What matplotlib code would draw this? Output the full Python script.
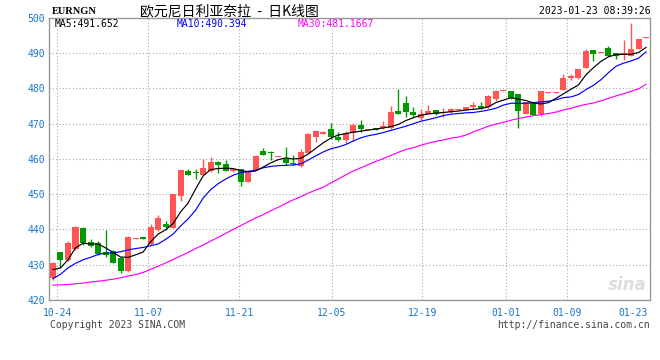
import matplotlib
matplotlib.use('Agg')
import matplotlib.pyplot as plt
import numpy as np

# daily candles, EUR/NGN
opens = [426.2, 433.5, 431.4, 434.5, 440.5, 436.4, 436.1, 433.5, 434.0, 431.8,
         428.1, 437.4, 437.9, 435.9, 439.9, 441.5, 440.5, 449.6, 456.7, 456.3,
         455.6, 456.7, 459.2, 458.5, 456.6, 457.1, 453.6, 456.9, 462.3, 461.8,
         460.6, 460.0, 459.0, 458.0, 461.8, 466.3, 467.2, 468.4, 466.3, 465.4,
         467.5, 469.6, 468.3, 468.7, 468.7, 468.7, 473.7, 476.0, 473.4, 471.7,
         472.9, 473.9, 473.1, 473.2, 474.0, 473.9, 474.8, 474.9, 474.8, 476.9,
         479.4, 479.3, 478.4, 472.9, 476.2, 472.7, 478.8, 478.8, 479.7, 482.9,
         482.9, 485.9, 490.9, 490.1, 491.5, 490.1, 489.5, 489.3, 491.2, 494.4]
highs = [430.9, 433.6, 436.6, 441.0, 440.8, 437.2, 436.8, 439.9, 434.2, 432.3,
         438.2, 437.5, 438.0, 441.7, 444.2, 442.5, 450.2, 457.0, 457.2, 457.2,
         459.9, 460.5, 459.4, 459.6, 457.4, 457.3, 456.5, 461.1, 463.2, 462.3,
         460.8, 463.3, 461.1, 462.7, 467.5, 468.2, 467.9, 470.1, 467.6, 467.9,
         470.1, 471.0, 468.5, 468.8, 470.8, 475.1, 479.8, 477.8, 474.8, 474.1,
         475.3, 474.0, 474.6, 474.4, 474.1, 474.8, 476.1, 476.1, 478.1, 479.7,
         479.5, 479.3, 478.4, 476.3, 476.3, 479.4, 478.9, 478.9, 484.1, 484.1,
         485.6, 491.1, 491.0, 490.2, 492.0, 490.2, 493.7, 498.7, 494.1, 494.5]
lows = [425.7, 429.0, 431.2, 434.3, 435.6, 435.0, 432.9, 432.2, 430.4, 427.8,
        427.9, 437.4, 437.2, 435.7, 439.7, 439.9, 440.3, 448.2, 455.4, 454.2,
        455.4, 456.4, 455.9, 456.5, 456.3, 452.4, 453.5, 456.8, 461.0, 459.7,
        460.6, 458.3, 458.3, 457.8, 461.6, 464.7, 467.0, 465.6, 465.1, 464.4,
        465.2, 467.7, 468.3, 468.1, 468.6, 468.5, 472.7, 472.0, 471.8, 471.0,
        472.8, 472.5, 472.0, 473.1, 474.0, 473.8, 474.2, 474.3, 474.6, 476.4,
        479.4, 477.1, 468.9, 472.8, 472.4, 472.3, 478.8, 478.8, 479.6, 482.4,
        482.8, 485.8, 487.8, 490.1, 489.2, 488.5, 488.0, 489.2, 491.1, 494.4]
closes = [430.6, 431.4, 436.1, 440.8, 436.1, 435.2, 433.1, 432.8, 430.6, 428.1,
          438.0, 437.5, 437.3, 440.6, 443.4, 440.8, 450.0, 456.9, 455.6, 456.0,
          457.5, 459.2, 458.4, 456.7, 457.3, 453.6, 456.4, 460.8, 461.1, 461.6,
          460.7, 458.9, 458.7, 462.1, 467.0, 467.9, 467.7, 466.3, 465.4, 467.5,
          469.6, 468.5, 468.4, 468.2, 469.3, 473.4, 472.9, 473.2, 472.5, 472.9,
          473.6, 472.9, 473.4, 474.2, 474.1, 474.7, 475.3, 474.5, 477.8, 479.3,
          479.5, 477.2, 473.7, 476.2, 472.5, 479.3, 478.9, 478.9, 483.0, 483.6,
          485.5, 490.7, 489.7, 490.2, 489.3, 489.3, 490.1, 491.1, 494.0, 494.5]

ma5 = [428.6, 429.1, 431.4, 434.8, 436.1, 435.9, 435.9, 434.8, 433.5, 432.2,
       432.1, 432.8, 433.6, 436.5, 438.7, 439.9, 441.7, 445.0, 447.5, 451.5,
       455.2, 457.0, 457.3, 457.4, 457.3, 456.7, 456.4, 456.6, 457.7, 458.9,
       459.8, 460.3, 460.0, 460.2, 461.4, 463.0, 464.6, 465.9, 466.8, 467.2,
       467.6, 467.9, 468.2, 468.5, 468.8, 469.2, 469.8, 470.9, 471.7, 472.4,
       472.8, 473.0, 473.2, 473.4, 473.6, 473.9, 474.1, 474.3, 474.8, 476.0,
       476.7, 477.4, 477.0, 476.6, 475.9, 475.6, 476.0, 477.2, 478.5, 479.8,
       481.0, 483.9, 485.9, 487.7, 489.0, 489.6, 489.7, 489.7, 490.2, 491.65]
ma10 = [426.1, 427.3, 429.1, 430.4, 431.4, 432.1, 432.9, 433.3, 433.3, 433.7,
        434.2, 434.6, 434.9, 435.4, 435.9, 437.2, 438.7, 441.0, 443.0, 445.5,
        448.9, 451.3, 453.0, 454.3, 455.4, 456.1, 456.5, 456.8, 457.5, 457.9,
        458.1, 458.2, 458.3, 458.6, 459.7, 460.9, 462.0, 462.9, 463.4, 464.1,
        465.1, 466.0, 466.6, 467.0, 467.5, 468.1, 468.7, 469.3, 470.0, 470.7,
        471.2, 471.7, 472.3, 472.7, 472.9, 473.1, 473.2, 473.5, 473.9, 474.4,
        475.3, 475.8, 475.8, 475.8, 476.0, 476.2, 476.4, 476.8, 477.4, 477.6,
        478.3, 479.7, 480.9, 482.5, 484.5, 486.3, 487.2, 487.8, 488.6, 490.39]
ma30 = [424.2, 424.3, 424.4, 424.6, 424.8, 425.1, 425.3, 425.6, 425.9, 426.3,
        426.8, 427.2, 427.8, 428.7, 429.6, 430.5, 431.5, 432.5, 433.5, 434.6,
        435.6, 436.7, 437.8, 438.9, 440.0, 441.1, 442.2, 443.3, 444.2, 445.3,
        446.3, 447.4, 448.4, 449.3, 450.3, 451.2, 452.0, 453.2, 454.3, 455.5,
        456.6, 457.5, 458.4, 459.3, 460.1, 461.0, 461.9, 462.7, 463.2, 463.9,
        464.5, 465.0, 465.4, 465.9, 466.2, 466.8, 467.7, 468.5, 469.3, 469.9,
        470.4, 471.0, 471.5, 471.9, 472.3, 472.6, 472.9, 473.3, 473.9, 474.4,
        475.0, 475.5, 475.9, 476.5, 477.2, 477.9, 478.5, 479.2, 479.9, 481.17]

date_labels = ['10-24', '11-07', '11-21', '12-05', '12-19', '01-01', '01-09', '01-23']
date_pos = [0.57, 12.69, 24.81, 37.13, 49.2, 60.31, 68.44, 77.3]
price_ticks = [420, 430, 440, 450, 460, 470, 480, 490, 500]

UP = '#ff5555'
DOWN = '#009900'
BLUE_TXT = '#1874cd'
MONO = 'DejaVu Sans Mono'

fig = plt.figure(figsize=(6.6, 3.6), dpi=100)
ax = fig.add_axes([49 / 660, 60 / 360, 601 / 660, 282 / 360])

x = np.arange(len(closes))
o = np.array(opens)
c = np.array(closes)
up = c >= o
cols = np.where(up, UP, DOWN)

ax.vlines(x, lows, highs, colors=cols, lw=1.0, zorder=3)
body_lo = np.minimum(o, c)
body_h = np.maximum(np.abs(c - o), 0.28)
ax.bar(x, body_h, bottom=body_lo, width=0.8, color=cols, lw=0, zorder=4)

ax.plot(x, ma30, color='#ff00ff', lw=0.85, zorder=5)
ax.plot(x, ma10, color='#0000ff', lw=0.85, zorder=5)
ax.plot(x, ma5, color='black', lw=0.85, zorder=5)

ax.set_xlim(-0.53, 79.53)
ax.set_ylim(420, 500)
ax.set_yticks(price_ticks)
ax.set_yticklabels([str(p) for p in price_ticks], fontsize=7, family=MONO, color=BLUE_TXT)
ax.set_xticks(date_pos)
ax.set_xticklabels(date_labels, fontsize=7, family=MONO, color=BLUE_TXT)
ax.tick_params(length=0, pad=3)
ax.tick_params(axis='x', pad=6)

for p in price_ticks[1:-1]:
    ax.axhline(p, color='#aaaaaa', lw=0.8, ls=(0, (1, 2)), zorder=1)
for p in date_pos[:-1]:
    ax.axvline(p, color='#aaaaaa', lw=0.8, ls=(0, (1, 2)), zorder=1)
for s in ax.spines.values():
    s.set_color('#999999')
    s.set_linewidth(1.0)

# MA legend inside the plot
ax.text(55 / 660, 336 / 360, 'MA5:491.652', transform=fig.transFigure,
        fontsize=7, family=MONO, color='black', va='center')
ax.text(177 / 660, 336 / 360, 'MA10:490.394', transform=fig.transFigure,
        fontsize=7, family=MONO, color='#0000ff', va='center')
ax.text(298 / 660, 336 / 360, 'MA30:481.1667', transform=fig.transFigure,
        fontsize=7, family=MONO, color='#ff00ff', va='center')

# header
fig.text(52 / 660, 349 / 360, 'EURNGN', fontsize=7.5, family='Liberation Serif',
         fontweight='bold', color='black', va='center')
fig.text(140 / 660, 349 / 360, '欧元尼日利亚奈拉  -  日K线图', fontsize=10,
         family=['Noto Sans CJK SC', 'DejaVu Sans'], color='black', va='center')
fig.text(651 / 660, 349 / 360, '2023-01-23 08:39:26', fontsize=7, family=MONO,
         color='black', va='center', ha='right')

# footer
fig.text(50 / 660, 35 / 360, 'Copyright 2023 SINA.COM', fontsize=7, family=MONO,
         color='#444444', va='center')
fig.text(650 / 660, 35 / 360, 'http://finance.sina.com.cn', fontsize=7, family=MONO,
         color='#444444', va='center', ha='right')

# watermark
ax.text(0.995, 0.02, 'sina', transform=ax.transAxes, fontsize=12, fontweight='bold',
        style='italic', color='#dddddd', ha='right', va='bottom', zorder=0)

fig.savefig('out.png', dpi=100)
